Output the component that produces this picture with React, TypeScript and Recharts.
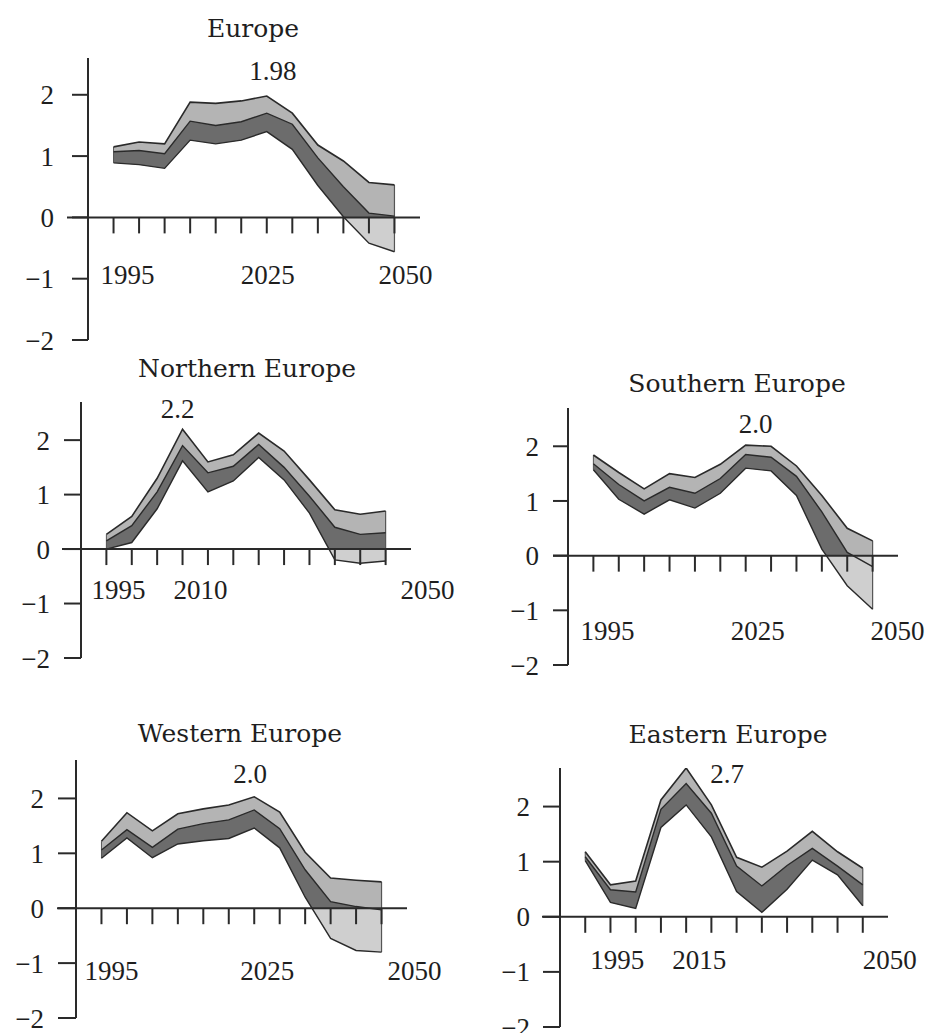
import React from 'react';
import { ComposedChart, Area, Line, XAxis, YAxis, ReferenceLine, ReferenceDot } from 'recharts';

const YEARS = [1995, 2000, 2005, 2010, 2015, 2020, 2025, 2030, 2035, 2040, 2045, 2050];
const Y_TICKS = [-2, -1, 0, 1, 2];

const EUROPE_HIGH = [1.15, 1.23, 1.2, 1.88, 1.86, 1.9, 1.98, 1.7, 1.18, 0.92, 0.57, 0.53];
const EUROPE_MID = [1.07, 1.09, 1.04, 1.57, 1.5, 1.56, 1.7, 1.52, 0.97, 0.5, 0.07, 0.02];
const EUROPE_LOW = [0.89, 0.86, 0.8, 1.26, 1.2, 1.26, 1.4, 1.11, 0.52, 0.01, -0.42, -0.56];
const EUROPE_LABELS = [1995, 2025, 2050];

const NORTH_HIGH = [0.27, 0.6, 1.3, 2.2, 1.6, 1.73, 2.13, 1.8, 1.27, 0.72, 0.64, 0.7];
const NORTH_MID = [0.15, 0.43, 1.05, 1.9, 1.4, 1.52, 1.92, 1.5, 0.97, 0.4, 0.27, 0.3];
const NORTH_LOW = [0.0, 0.12, 0.74, 1.62, 1.05, 1.25, 1.68, 1.27, 0.66, -0.2, -0.26, -0.22];
const NORTH_LABELS = [1995, 2010, 2050];

const SOUTH_HIGH = [1.84, 1.52, 1.22, 1.5, 1.43, 1.67, 2.02, 2.0, 1.64, 1.1, 0.5, 0.27];
const SOUTH_MID = [1.68, 1.3, 1.0, 1.25, 1.14, 1.41, 1.85, 1.8, 1.45, 0.8, 0.06, -0.2];
const SOUTH_LOW = [1.57, 1.03, 0.76, 1.02, 0.87, 1.14, 1.6, 1.55, 1.1, 0.12, -0.55, -0.98];
const SOUTH_LABELS = [1995, 2025, 2050];

const WEST_HIGH = [1.22, 1.74, 1.41, 1.72, 1.81, 1.88, 2.03, 1.75, 1.02, 0.55, 0.51, 0.48];
const WEST_MID = [1.06, 1.43, 1.11, 1.44, 1.54, 1.61, 1.79, 1.45, 0.7, 0.12, 0.03, -0.03];
const WEST_LOW = [0.91, 1.28, 0.92, 1.17, 1.23, 1.27, 1.46, 1.1, 0.2, -0.55, -0.77, -0.8];
const WEST_LABELS = [1995, 2025, 2050];

const EAST_HIGH = [1.18, 0.58, 0.65, 2.12, 2.7, 2.03, 1.08, 0.9, 1.19, 1.55, 1.18, 0.88];
const EAST_MID = [1.09, 0.49, 0.45, 1.95, 2.42, 1.88, 0.92, 0.56, 0.93, 1.24, 0.92, 0.58];
const EAST_LOW = [1.02, 0.26, 0.15, 1.62, 2.03, 1.45, 0.46, 0.08, 0.5, 1.03, 0.76, 0.2];
const EAST_LABELS = [1995, 2015, 2050];

const INK = '#2a2a2a';
const LIGHT = '#b4b4b4';
const LIGHTER = '#cfcfcf';
const DARK = '#6c6c6c';
const NUM_FONT = "'Liberation Serif', serif";
const TITLE_FONT = "'DejaVu Serif', serif";

// room around each plot area
const YW = 70;
const MT = 40;
const MR = 70;
const XH = 20;

const PANELS = [
  {
    title: 'Europe', peak: '1.98', high: EUROPE_HIGH, mid: EUROPE_MID, low: EUROPE_LOW, labels: EUROPE_LABELS,
    left: 88, top: 58, w: 332, h: 282, yMax: 2.6, axisExt: 21, tickSize: 16, tickMargin: 18,
    shifts: [14, 1, 11], labelDy: -56, peakDx: 6, peakDy: -16, titleX: 253, titleY: 37,
  },
  {
    title: 'Northern Europe', peak: '2.2', high: NORTH_HIGH, mid: NORTH_MID, low: NORTH_LOW, labels: NORTH_LABELS,
    left: 81, top: 402, w: 330, h: 256, yMax: 2.7, axisExt: 19, tickSize: 17, tickMargin: 14,
    shifts: [12, 18, 42], labelDy: -59, peakDx: -5, peakDy: -11, titleX: 247, titleY: 377,
  },
  {
    title: 'Southern Europe', peak: '2.0', high: SOUTH_HIGH, mid: SOUTH_MID, low: SOUTH_LOW, labels: SOUTH_LABELS,
    left: 568, top: 408, w: 330, h: 257, yMax: 2.7, axisExt: 15, tickSize: 15, tickMargin: 14,
    shifts: [14, 12, 25], labelDy: -25, peakDx: 10, peakDy: -12, titleX: 737, titleY: 392,
  },
  {
    title: 'Western Europe', peak: '2.0', high: WEST_HIGH, mid: WEST_MID, low: WEST_LOW, labels: WEST_LABELS,
    left: 76, top: 760, w: 331, h: 258, yMax: 2.7, axisExt: 19, tickSize: 18, tickMargin: 14,
    shifts: [10, 13, 33], labelDy: -38, peakDx: -4, peakDy: -14, titleX: 240, titleY: 742,
  },
  {
    title: 'Eastern Europe', peak: '2.7', high: EAST_HIGH, mid: EAST_MID, low: EAST_LOW, labels: EAST_LABELS,
    left: 560, top: 768, w: 328, h: 259, yMax: 2.7, axisExt: 18, tickSize: 17, tickMargin: 13,
    shifts: [32, 13, 27], labelDy: -58, peakDx: 41, peakDy: 15, titleX: 728, titleY: 743,
  },
];

const X_MIN = 1990;
const X_MAX = 2055;

const fmtY = (v: number) => (v < 0 ? `\u2212${Math.abs(v)}` : String(v));

function Panel({ p, idx }: { p: any; idx: number }) {
  const data = YEARS.map((year, i) => ({ year, high: p.high[i], mid: p.mid[i], low: p.low[i] }));
  const unit = p.h / (p.yMax + 2);
  const pxPerYear = p.w / (X_MAX - X_MIN);
  const chartW = YW + p.w + MR;
  const chartH = MT + p.h + XH;
  const zeroOffset = (MT + p.yMax * unit) / chartH;
  const tickLen = 16 / unit;
  const peakIdx = p.high.indexOf(Math.max(...p.high));
  const last = YEARS.length - 1;

  const yearTick = (t: any) => {
    const k = p.labels.indexOf(t.payload.value);
    return (
      <text x={t.x + (p.shifts[k] || 0)} y={t.y + p.labelDy} textAnchor="middle"
        fontFamily={NUM_FONT} fontSize={27} fill="#1e1e1e">
        {t.payload.value}
      </text>
    );
  };

  return (
    <>
      <div style={{
        position: 'absolute', left: p.titleX - 200, width: 400, top: p.titleY - 21,
        textAlign: 'center', fontFamily: TITLE_FONT, fontSize: 25, lineHeight: 1, color: '#1e1e1e',
      }}>
        {p.title}
      </div>
      <div style={{ position: 'absolute', left: p.left - YW, top: p.top - MT }}>
        <ComposedChart width={chartW} height={chartH} data={data}
          margin={{ top: MT, right: MR, bottom: 0, left: 0 }}>
          <defs>
            <linearGradient id={`light-${idx}`} gradientUnits="userSpaceOnUse" x1="0" y1="0" x2="0" y2={chartH}>
              <stop offset={zeroOffset} stopColor={LIGHT} />
              <stop offset={zeroOffset} stopColor={LIGHTER} />
            </linearGradient>
            <linearGradient id={`dark-${idx}`} gradientUnits="userSpaceOnUse" x1="0" y1="0" x2="0" y2={chartH}>
              <stop offset={zeroOffset} stopColor={DARK} />
              <stop offset={zeroOffset} stopColor={LIGHTER} />
            </linearGradient>
          </defs>
          <XAxis dataKey="year" type="number" domain={[X_MIN, X_MAX]} ticks={p.labels} interval={0}
            allowDataOverflow height={XH} axisLine={false} tickLine={false} tickSize={0} tickMargin={0}
            tick={yearTick} />
          <YAxis type="number" domain={[-2, p.yMax]} ticks={Y_TICKS} interval={0} allowDataOverflow
            width={YW} tickSize={p.tickSize} tickMargin={p.tickMargin} tickFormatter={fmtY}
            axisLine={{ stroke: INK, strokeWidth: 2 }} tickLine={{ stroke: INK, strokeWidth: 2 }}
            tick={{ fill: '#1e1e1e', fontSize: 27, fontFamily: NUM_FONT }} />
          <Area type="linear" dataKey={(d: any) => [d.low, d.high]} fill={`url(#light-${idx})`} fillOpacity={1}
            stroke="none" isAnimationActive={false} />
          <Area type="linear" dataKey={(d: any) => [d.low, d.mid]} fill={`url(#dark-${idx})`} fillOpacity={1}
            stroke="none" isAnimationActive={false} />
          <ReferenceLine segment={[{ x: YEARS[0], y: p.low[0] }, { x: YEARS[0], y: p.high[0] }]}
            stroke="#555" strokeWidth={1} />
          <ReferenceLine segment={[{ x: YEARS[last], y: p.low[last] }, { x: YEARS[last], y: p.high[last] }]}
            stroke="#555" strokeWidth={1.2} />
          <Line type="linear" dataKey="high" stroke={INK} strokeWidth={1.6} dot={false} isAnimationActive={false} />
          <Line type="linear" dataKey="mid" stroke={INK} strokeWidth={1.4} dot={false} isAnimationActive={false} />
          <Line type="linear" dataKey="low" stroke={INK} strokeWidth={1.4} dot={false} isAnimationActive={false} />
          <ReferenceLine segment={[{ x: X_MIN - p.axisExt / pxPerYear, y: 0 }, { x: X_MAX, y: 0 }]}
            ifOverflow="visible" stroke={INK} strokeWidth={2} />
          {YEARS.map((yr) => (
            <ReferenceLine key={yr} segment={[{ x: yr, y: 0 }, { x: yr, y: -tickLen }]}
              stroke={INK} strokeWidth={2} />
          ))}
          <ReferenceDot x={YEARS[peakIdx]} y={p.high[peakIdx]} r={0} ifOverflow="visible"
            shape={(s: any) => (
              <text x={s.cx + p.peakDx} y={s.cy + p.peakDy} textAnchor="middle"
                fontFamily={NUM_FONT} fontSize={27} fill="#1e1e1e">
                {p.peak}
              </text>
            )} />
        </ComposedChart>
      </div>
    </>
  );
}

export default function App() {
  return (
    <div style={{ position: 'absolute', left: 0, top: 0, width: 928, height: 1033, background: '#fff' }}>
      {PANELS.map((p, i) => (
        <Panel key={p.title} p={p} idx={i} />
      ))}
    </div>
  );
}
